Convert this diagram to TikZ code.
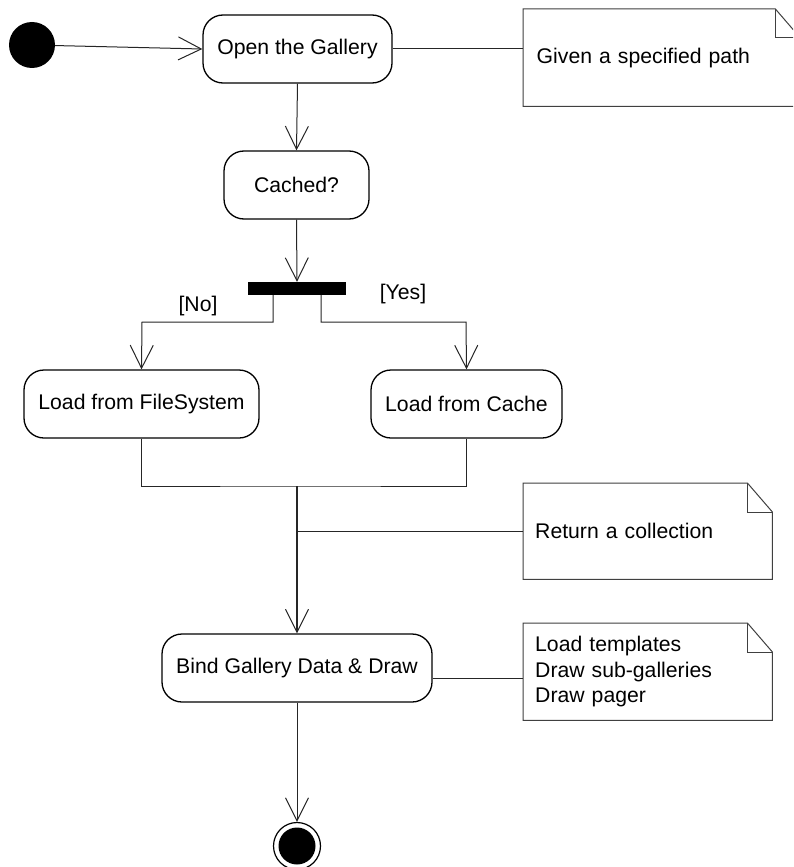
\documentclass[tikz,border=0pt]{standalone}
\usepackage{fontspec}
\setmainfont{Liberation Sans}
\usetikzlibrary{arrows.meta}
\tikzset{
  act/.style={draw=black, line width=1.3pt, rounded corners=20pt, minimum height=68pt, inner sep=0pt, font=\fontsize{21.2}{25.5}\selectfont},
  conn/.style={draw=black!85, line width=1pt},
  arr/.style={conn, -{Straight Barb[length=23pt,width=23pt,line width=1pt]}},
  notebox/.style={draw=none, inner xsep=11pt, inner ysep=0pt, align=left, anchor=north west, font=\fontsize{21.2}{25.5}\selectfont},
  noteline/.style={draw=black!75, line width=1pt},
  guard/.style={font=\fontsize{21.2}{25.5}\selectfont, inner sep=0pt}
}
\newcommand{\dogear}[1]{%
  \draw[noteline] (#1.north west) -- ([xshift=-25pt]#1.north east) -- ([yshift=-29pt]#1.north east) -- (#1.south east) -- (#1.south west) -- cycle;
  \draw[noteline] ([xshift=-25pt]#1.north east) |- ([yshift=-29pt]#1.north east);
}
\begin{document}
\begin{tikzpicture}[x=1pt,y=-1pt]
\useasboundingbox (0,0) rectangle (793,867);
\clip (0,0) rectangle (793,867);
\fill[white] (0,0) rectangle (793,867);

% nodes
\node[circle, fill=black, minimum size=46pt, inner sep=0pt] (init) at (32,45) {};
\node[act, minimum width=189pt] (open) at (297.5,49) {Open the Gallery};
\node[act, minimum width=145pt] (cached) at (296.5,185) {Cached?};
\node[fill=black, minimum width=98pt, minimum height=13pt, inner sep=0pt] (bar) at (297,288.5) {};
\node[act, minimum width=235pt] (fs) at (141.5,404) {Load from FileSystem};
\node[act, minimum width=191pt] (cache) at (466.5,404) {Load from Cache};
\node[act, minimum width=270pt] (bind) at (297,668) {Bind Gallery Data \& Draw};
\node[circle, draw=black, line width=1.2pt, minimum size=47pt, inner sep=0pt] (final) at (297,846) {};
\node[circle, fill=black, minimum size=37pt, inner sep=0pt] (finalin) at (final.center) {};

% notes
\node[notebox, minimum width=277pt, minimum height=97pt, text width=250pt] (n1) at (523,9) {Given a specified path};
\node[notebox, minimum width=249pt, minimum height=96pt, text width=225pt] (n2) at (523,483) {Return a collection};
\node[notebox, minimum width=249pt, minimum height=97pt, text width=225pt, inner xsep=9pt] (n3) at (523,623) {Load templates\\Draw sub-galleries\\Draw pager};
\dogear{n1}
\dogear{n2}
\dogear{n3}

% guards
\node[guard] (no) at (198,306) {[No]};
\node[guard] (yes) at (403,294) {[Yes]};

% coordinates
\coordinate (nob) at (142,322);
\coordinate (yesb) at (466,322);
\coordinate (join) at (297,486);

% connectors
\draw[arr] (init) -- (open.west);
\draw[arr] (open.south) -- (cached.north);
\draw[arr] (cached.south) -- (bar.north);
\draw[arr] ([xshift=-24pt]bar.south) |- (nob) -- (fs.north);
\draw[arr] ([xshift=24pt]bar.south) |- (yesb) -- (cache.north);
\draw[conn] (fs.south) |- (join) -| (cache.south);
\draw[arr, line width=1.6pt] (join) -- (bind.north);
\draw[conn] (join |- n2.west) -- (n2.west);
\draw[conn] (open.east) -- (open.east -| n1.west);
\draw[conn] ([yshift=-10pt]bind.east) -- ([yshift=-10pt]bind.east -| n3.west);
\draw[arr] (bind.south) -- (final.north);
\end{tikzpicture}
\end{document}
